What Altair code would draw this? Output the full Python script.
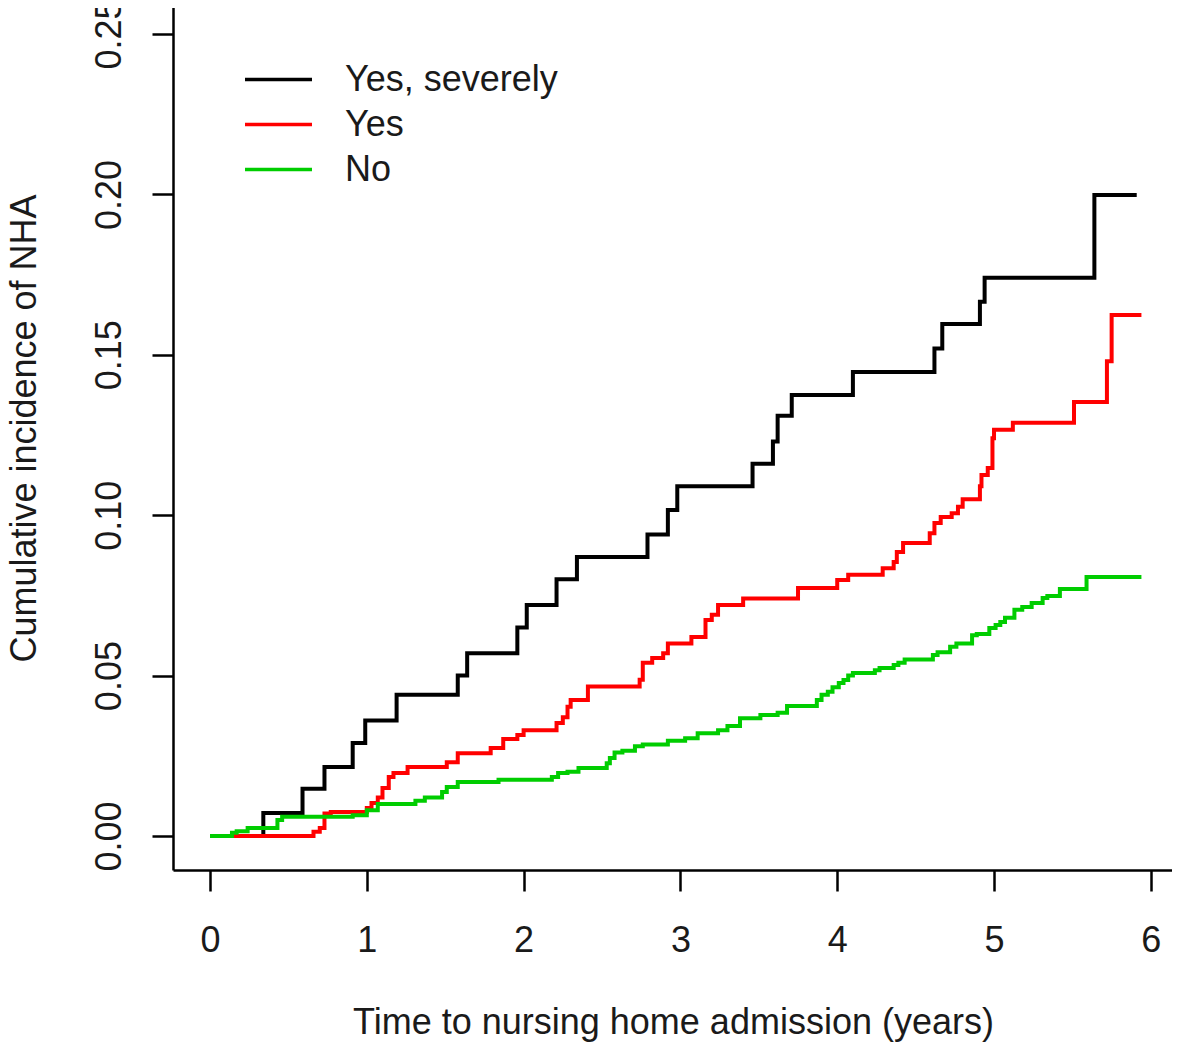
import altair as alt
import pandas as pd

# ---- data (step functions: time in years, cumulative incidence) ----
severe_t = [0, 0.34, 0.59, 0.73, 0.91, 0.99, 1.19, 1.58, 1.64, 1.96, 2.02, 2.21, 2.34,
            2.79, 2.92, 2.98, 3.46, 3.59, 3.62, 3.71, 4.10, 4.62, 4.67, 4.91, 4.94, 5.64, 5.91]
severe_v = [0, 0.0072, 0.0147, 0.0215, 0.029, 0.036, 0.044, 0.050, 0.057, 0.065, 0.072, 0.080, 0.087,
            0.094, 0.1016, 0.109, 0.116, 0.123, 0.131, 0.1375, 0.1446, 0.152, 0.1596, 0.1665, 0.174, 0.1998, 0.1998]

yes_t = [0, 0.66, 0.70, 0.73, 0.77, 1.00, 1.03, 1.07, 1.10, 1.14, 1.17, 1.26, 1.51, 1.58, 1.79,
         1.87, 1.96, 2.00, 2.21, 2.25, 2.28, 2.30, 2.41, 2.74, 2.76, 2.82, 2.89, 2.92, 3.07, 3.16,
         3.20, 3.24, 3.40, 3.75, 4.00, 4.07, 4.29, 4.36, 4.38, 4.42, 4.59, 4.62, 4.66, 4.73, 4.77,
         4.80, 4.91, 4.92, 4.96, 4.99, 5.00, 5.12, 5.51, 5.72, 5.75, 5.94]
yes_v = [0, 0.0013, 0.0025, 0.007, 0.0075, 0.0087, 0.0103, 0.012, 0.015, 0.0184, 0.0196, 0.0215, 0.023, 0.0258, 0.0274,
         0.0302, 0.0315, 0.033, 0.0352, 0.037, 0.0403, 0.0424, 0.0466, 0.0487, 0.054, 0.0555, 0.057, 0.060, 0.062, 0.0673,
         0.069, 0.072, 0.074, 0.0773, 0.0798, 0.0814, 0.0835, 0.0854, 0.0885, 0.0913, 0.0944, 0.0976, 0.0994, 0.1006, 0.1026,
         0.105, 0.109, 0.1125, 0.1147, 0.124, 0.1266, 0.1288, 0.1353, 0.148, 0.1624, 0.1624]

no_t = [0, 0.14, 0.17, 0.24, 0.43, 0.46, 0.91, 1.00, 1.07, 1.31, 1.37, 1.48, 1.51, 1.58, 1.84,
        2.18, 2.22, 2.28, 2.35, 2.53, 2.55, 2.58, 2.63, 2.71, 2.76, 2.92, 3.03, 3.11, 3.24, 3.30,
        3.38, 3.51, 3.62, 3.68, 3.87, 3.90, 3.94, 3.97, 4.01, 4.04, 4.07, 4.10, 4.24, 4.27, 4.36,
        4.39, 4.43, 4.61, 4.64, 4.72, 4.76, 4.86, 4.89, 4.97, 5.01, 5.04, 5.07, 5.13, 5.18, 5.24,
        5.31, 5.34, 5.42, 5.59, 5.94]
no_v = [0, 0.001, 0.0015, 0.0025, 0.005, 0.006, 0.0065, 0.008, 0.010, 0.011, 0.012, 0.0137, 0.0153, 0.0168, 0.0175,
        0.0184, 0.0196, 0.020, 0.0212, 0.0227, 0.0243, 0.026, 0.0266, 0.028, 0.0285, 0.0297, 0.0305, 0.032, 0.033, 0.0343,
        0.0367, 0.0377, 0.0384, 0.0405, 0.0424, 0.044, 0.045, 0.0464, 0.0477, 0.0486, 0.050, 0.0508, 0.0517, 0.0524, 0.0533,
        0.054, 0.055, 0.0564, 0.0573, 0.059, 0.060, 0.0626, 0.063, 0.0648, 0.0658, 0.0667, 0.068, 0.0705, 0.0714, 0.0726,
        0.0742, 0.0748, 0.077, 0.0807, 0.0807]

groups = ["Yes, severely", "Yes", "No"]
colors = ["#000000", "#FF0000", "#00CD00"]
x_ticks = [0, 1, 2, 3, 4, 5, 6]
y_ticks = [0.0, 0.05, 0.10, 0.15, 0.20, 0.25]

rows = []
for name, ts, vs in [("Yes, severely", severe_t, severe_v), ("Yes", yes_t, yes_v), ("No", no_t, no_v)]:
    for t, v in zip(ts, vs):
        rows.append({"group": name, "time": t, "cif": v})
df = pd.DataFrame(rows)

FONT = "Liberation Sans, Arial, Helvetica, sans-serif"
TXT = "#1a1a1a"

chart = alt.Chart(df).mark_line(interpolate="step-after", strokeWidth=4, clip=True).encode(
    x=alt.X("time:Q",
            scale=alt.Scale(domain=[-0.236, 6.135], nice=False, zero=False),
            axis=alt.Axis(values=x_ticks, format="d", grid=False,
                          title="Time to nursing home admission (years)",
                          domainColor="black", domainWidth=2.5,
                          tickColor="black", tickWidth=2.5, tickSize=21,
                          labelFont=FONT, labelFontSize=36, labelColor=TXT, labelPadding=32,
                          labelFlush=False, labelOverlap=False,
                          titleFont=FONT, titleFontSize=36, titleFontWeight="normal", titleColor=TXT,
                          titleX=500, titleY=163, titleAlign="center", titleBaseline="alphabetic")),
    y=alt.Y("cif:Q",
            scale=alt.Scale(domain=[-0.0106, 0.2606], nice=False, zero=False),
            axis=alt.Axis(values=y_ticks, format=".2f", grid=False,
                          title="Cumulative incidence of NHA",
                          domainColor="black", domainWidth=2.5,
                          tickColor="black", tickWidth=2.5, tickSize=21,
                          labelFont=FONT, labelFontSize=36, labelColor=TXT, labelPadding=32,
                          labelAngle=270, labelAlign="center", labelBaseline="alphabetic",
                          labelFlush=False, labelOverlap=False,
                          titleFont=FONT, titleFontSize=36, titleFontWeight="normal", titleColor=TXT,
                          titleAngle=270, titleX=-138, titleY=428, titleAlign="center",
                          titleBaseline="alphabetic")),
    color=alt.Color("group:N",
                    scale=alt.Scale(domain=groups, range=colors),
                    legend=alt.Legend(title=None, orient="none", legendX=87, legendY=61,
                                      symbolType="M-2,0H2", symbolSize=1122, symbolStrokeWidth=3.5,
                                      labelFont=FONT, labelFontSize=36, labelColor=TXT, labelLimit=0,
                                      labelOffset=48, rowPadding=8, padding=0)),
).properties(
    width=999, height=870,
    padding={"left": 165, "top": -8, "right": 0, "bottom": 172},
    autosize=alt.AutoSizeParams(type="none"),
).configure_view(stroke=None)

chart.save("out.html", embed_options={"renderer": "svg", "actions": False})
